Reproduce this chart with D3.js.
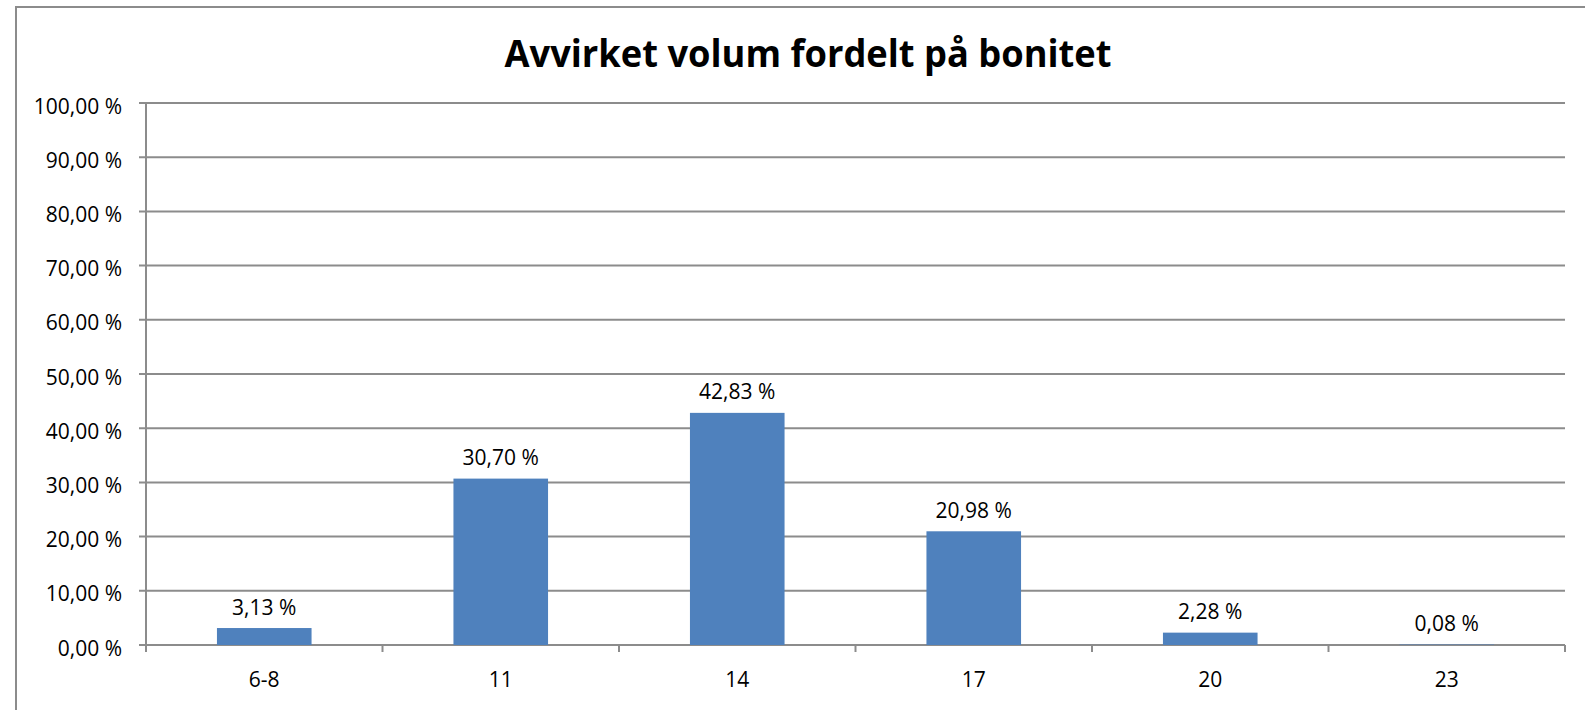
<!DOCTYPE html>
<html>
<head>
<meta charset="utf-8">
<script src="https://cdn.jsdelivr.net/npm/d3@7"></script>
<style>
  body { margin: 0; background: #fff; }
  text { font-family: "Open Sans", "Noto Sans", sans-serif; fill: #000; }
</style>
</head>
<body>
<div id="chart"></div>
<script>
// data
var categories = ["6-8", "11", "14", "17", "20", "23"];
var values = [3.13, 30.70, 42.83, 20.98, 2.28, 0.08];
var yTicks = [0, 10, 20, 30, 40, 50, 60, 70, 80, 90, 100];
var title = "Avvirket volum fordelt på bonitet";

var width = 1585,
	height = 710;

// plot area (names avoid window.top)
var plotLeft = 146, plotRight = 1565, plotTop = 103, plotBottom = 645;

var svg = d3.select("#chart").append("svg")
	.attr("width", width)
	.attr("height", height);

// outer chart border (right / bottom edges are off screen)
svg.append("rect")
	.attr("x", 16).attr("y", 7)
	.attr("width", width).attr("height", height)
	.attr("fill", "none")
	.attr("stroke", "#8c8c8c")
	.attr("stroke-width", 2);

var fmt = function(v){ return v.toFixed(2).replace(".", ",") + " %"; };

var x = d3.scaleBand()
	.domain(categories)
	.range([plotLeft, plotRight])
	.paddingInner(0.6)
	.paddingOuter(0.3);

var y = d3.scaleLinear()
	.domain([0, 100])
	.range([plotBottom, plotTop]);

// gridlines
svg.append("g")
	.selectAll("line")
	.data(yTicks).enter()
	.append("line")
	.attr("x1", plotLeft - 7)
	.attr("x2", plotRight)
	.attr("y1", function(d){ return y(d); })
	.attr("y2", function(d){ return y(d); })
	.attr("stroke", "#8c8c8c")
	.attr("stroke-width", 2);

// y axis line
svg.append("line")
	.attr("x1", plotLeft).attr("x2", plotLeft)
	.attr("y1", plotTop).attr("y2", plotBottom + 7)
	.attr("stroke", "#8c8c8c")
	.attr("stroke-width", 2);

// category ticks
var tickX = d3.range(categories.length + 1).map(function(i){ return plotLeft + i * (plotRight - plotLeft) / categories.length; });
svg.append("g")
	.selectAll("line")
	.data(tickX).enter()
	.append("line")
	.attr("x1", function(d){ return d; })
	.attr("x2", function(d){ return d; })
	.attr("y1", plotBottom)
	.attr("y2", plotBottom + 7)
	.attr("stroke", "#8c8c8c")
	.attr("stroke-width", 2);

// y tick labels
svg.append("g")
	.selectAll("text")
	.data(yTicks).enter()
	.append("text")
	.attr("x", 122)
	.attr("y", function(d){ return y(d) + 10.5; })
	.attr("text-anchor", "end")
	.style("font-size", "21px")
	.text(function(d){ return fmt(d); });

// bars
svg.append("g")
	.selectAll("rect")
	.data(values).enter()
	.append("rect")
	.attr("x", function(d, i){ return x(categories[i]); })
	.attr("width", x.bandwidth())
	.attr("y", function(d){ return y(d); })
	.attr("height", function(d){ return y(0) - y(d); })
	.attr("fill", "#4f81bd");

// data labels
svg.append("g")
	.selectAll("text")
	.data(values).enter()
	.append("text")
	.attr("x", function(d, i){ return x(categories[i]) + x.bandwidth() / 2; })
	.attr("y", function(d){ return y(d) - 13.5; })
	.attr("text-anchor", "middle")
	.style("font-size", "21px")
	.text(function(d){ return fmt(d); });

// category labels
svg.append("g")
	.selectAll("text")
	.data(categories).enter()
	.append("text")
	.attr("x", function(d){ return x(d) + x.bandwidth() / 2; })
	.attr("y", 687)
	.attr("text-anchor", "middle")
	.style("font-size", "21px")
	.text(function(d){ return d; });

// title
svg.append("text")
	.attr("x", 808)
	.attr("y", 67)
	.attr("text-anchor", "middle")
	.attr("textLength", 607)
	.attr("lengthAdjust", "spacingAndGlyphs")
	.style("font-size", "37px")
	.style("font-weight", "bold")
	.text(title);
</script>
</body>
</html>
